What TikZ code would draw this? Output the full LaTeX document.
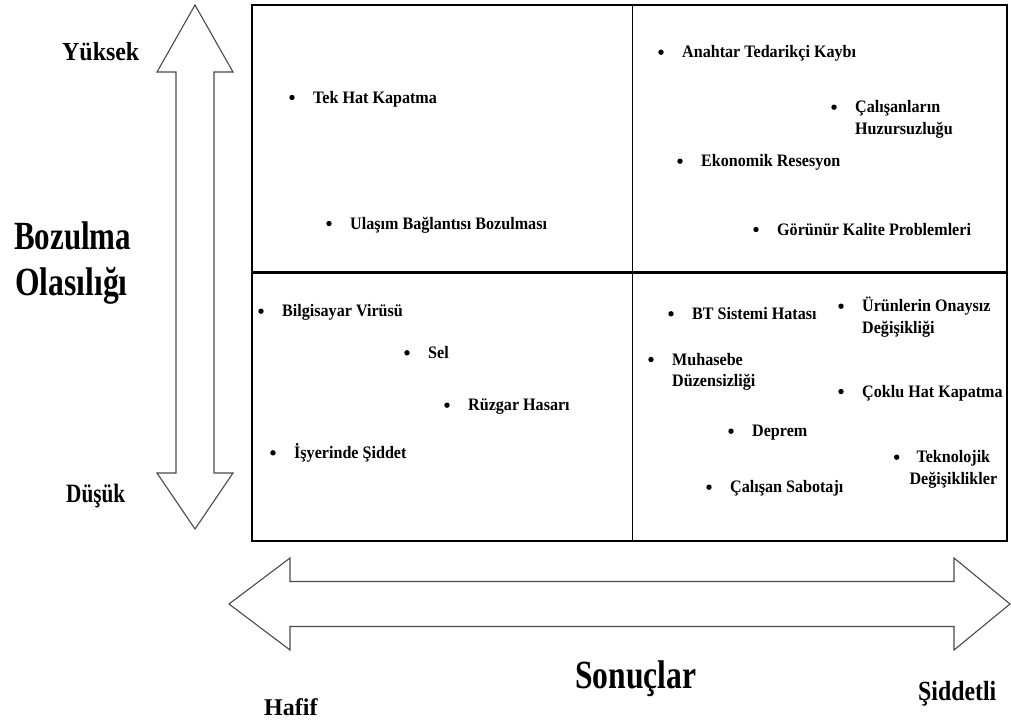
\documentclass[tikz,border=0pt]{standalone}
\usepackage{fontspec}
\usepackage{graphicx}
\setmainfont{Liberation Serif}
\definecolor{arrowline}{HTML}{4A4A4A}
\newcommand\itemsize{\fontsize{17.5}{21.5}\selectfont\bfseries}
% heading text: size, horizontal squeeze, text
\newcommand\headtext[3]{\scalebox{#2}[1]{\fontsize{#1}{#1}\selectfont\bfseries #3}}
\begin{document}
\begin{tikzpicture}[x=1pt,y=-1pt,
  risk/.style={anchor=base west,inner sep=0pt,font=\itemsize},
  dot/.style={circle,fill=black,inner sep=0pt,minimum size=5.4pt},
  head/.style={anchor=base west,inner sep=0pt},
  bigarrow/.style={draw=arrowline,line width=1.1pt,fill=white,line join=miter},
  grid/.style={draw=black,line width=1.7pt}]
\useasboundingbox (0,0) rectangle (1011,724);

% two-headed axis arrows
\path[bigarrow] (195,5) -- (233,72) -- (214,72) -- (214,473) -- (233,473)
  -- (195,529) -- (157,473) -- (176,473) -- (176,72) -- (157,72) -- cycle;
\path[bigarrow] (229,604) -- (290,558) -- (290,581.5) -- (954,581.5) -- (954,558)
  -- (1010,604) -- (954,650) -- (954,626.5) -- (290,626.5) -- (290,650) -- cycle;

% the four-quadrant grid
\coordinate (nw) at (252,5);
\coordinate (se) at (1007,541);
\coordinate (midtop) at (632.5,5);
\coordinate (midbot) at (632.5,541);
\coordinate (midleft) at (252,272.5);
\coordinate (midright) at (1007,272.5);
\path[grid] (nw) rectangle (se);
\path[grid] (midtop) -- (midbot);
\path[grid,line width=2.2pt] (midleft) -- (midright);

% axis labels
\node[head] (yuksek) at (62,60) {\headtext{26}{0.92}{Yüksek}};
\node[head] (bozulma) at (14,249) {\headtext{40}{0.775}{Bozulma}};
\node[head] (olasilik) at (15,295) {\headtext{40}{0.79}{Olasılığı}};
\node[head] (dusuk) at (66,502) {\headtext{26.5}{0.80}{Düşük}};
\node[head] (sonuc) at (575,688) {\headtext{40}{0.79}{Sonuçlar}};
\node[head] (hafif) at (264,715) {\headtext{24}{1.0}{Hafif}};
\node[head] (siddetli) at (918,700) {\headtext{27.7}{0.86}{Şiddetli}};

% risk items, one per node, each with its bullet
\newcommand\risk[4]{%
  \node[risk] (#1) at (#2,#3) {\scalebox{0.92}[1]{#4}};
  \node[dot] (#1-dot) at ([xshift=-21pt,yshift=5.5pt]#1.base west) {};}
\newcommand\risklines[4]{%
  \node[risk] (#1) at (#2,#3) {\scalebox{0.92}[1]{\begin{tabular}[t]{@{}l@{}}#4\end{tabular}}};
  \node[dot] (#1-dot) at ([xshift=-21pt,yshift=5.5pt]#1.base west) {};}

% upper left
\risk{tekhat}{313}{103}{Tek Hat Kapatma}
\risk{ulasim}{350}{229}{Ulaşım Bağlantısı Bozulması}
% upper right
\risk{anahtar}{682}{57.7}{Anahtar Tedarikçi Kaybı}
\risklines{calisanlar}{855}{112.7}{Çalışanların\\Huzursuzluğu}
\risk{ekonomik}{701}{166.7}{Ekonomik Resesyon}
\risk{gorunur}{777}{235}{Görünür Kalite Problemleri}
% lower left
\risk{virus}{282}{316.7}{Bilgisayar Virüsü}
\risk{sel}{428}{358.3}{Sel}
\risk{ruzgar}{468}{410.7}{Rüzgar Hasarı}
\risk{isyeri}{294}{458.3}{İşyerinde Şiddet}
% lower right
\risk{btsistem}{692}{319.3}{BT Sistemi Hatası}
\risklines{urunler}{862}{311.7}{Ürünlerin Onaysız\\Değişikliği}
\risklines{muhasebe}{672}{365}{Muhasebe\\Düzensizliği}
\risk{coklu}{862}{397}{Çoklu Hat Kapatma}
\risk{deprem}{752}{436.7}{Deprem}
\node[risk] (teknoloji) at (909.3,462.7)
  {\scalebox{0.92}[1]{\begin{tabular}[t]{@{}c@{}}Teknolojik\\Değişiklikler\end{tabular}}};
\node[dot] (teknoloji-dot) at (896.7,457.2) {};
\risk{sabotaj}{730}{492.7}{Çalışan Sabotajı}
\end{tikzpicture}
\end{document}
